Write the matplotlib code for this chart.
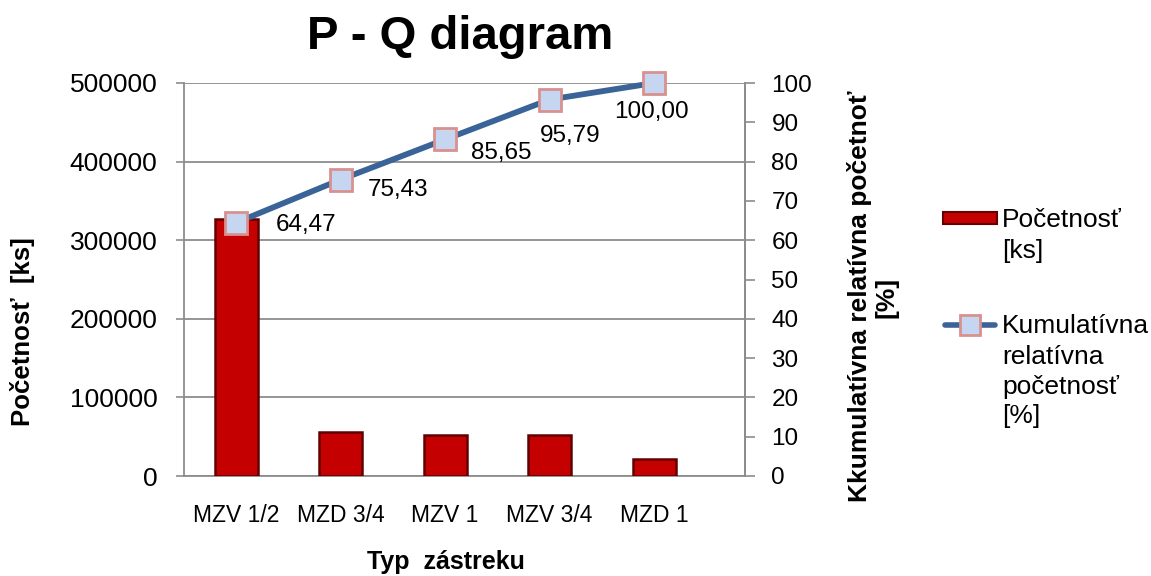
import matplotlib
matplotlib.use("Agg")
import matplotlib.pyplot as plt
from matplotlib.patches import Rectangle
from matplotlib.lines import Line2D

plt.rcParams['font.family'] = ['Liberation Sans', 'DejaVu Sans']

categories = ["MZV 1/2", "MZD 3/4", "MZV 1", "MZV 3/4", "MZD 1"]
counts = [327500, 55700, 52000, 51600, 21400]
cumulative = [64.47, 75.43, 85.65, 95.79, 100.00]
left_ticks = [0, 100000, 200000, 300000, 400000, 500000]
right_ticks = [0, 10, 20, 30, 40, 50, 60, 70, 80, 90, 100]

# label offsets in pixels (placement only)
label_offsets = [(40, -2, 'left'), (27, -10, 'left'), (26, -14, 'left'),
                 (-10, -36, 'left'), (-3, -29, 'center')]

W, H = 1151, 576
fig = plt.figure(figsize=(W / 100, H / 100), dpi=100)
ax = fig.add_axes([184 / W, 1 - 476 / H, (745 - 184) / W, (476 - 83) / H])
ax2 = ax.twinx()

grey = '#8c8c8c'
bar_red = '#C40000'
line_blue = '#3A6398'

x = list(range(len(categories)))
ax.bar(x, counts, width=0.41, color=bar_red, edgecolor='#620000',
       linewidth=1.8, zorder=3)
ax.set_xlim(-0.5, 4.87)
ax.set_ylim(0, 500000)
ax.set_yticks(left_ticks)
ax.set_yticklabels([str(t) for t in left_ticks], fontsize=19)
ax.set_xticks(x)
ax.set_xticklabels(categories, fontsize=16.5)
ax.tick_params(axis='x', length=0, pad=20)
ax.tick_params(axis='y', direction='out', length=6, width=1.2, color=grey, pad=13)
ax.yaxis.grid(True, color=grey, linewidth=1.3, zorder=0)
ax.set_axisbelow(True)
ax.spines['top'].set_visible(False)
for s in ['left', 'bottom', 'right']:
    ax.spines[s].set_color(grey)
    ax.spines[s].set_linewidth(1.3)

ax2.plot(x, cumulative, color=line_blue, linewidth=4.2, marker='s',
         markersize=15.5, markerfacecolor='#C6D6F0', markeredgecolor='#D8918F',
         markeredgewidth=2, zorder=5, clip_on=False)
ax2.set_ylim(0, 100)
ax2.set_yticks(right_ticks)
ax2.set_yticklabels([str(t) for t in right_ticks], fontsize=17.5)
ax2.tick_params(axis='y', direction='out', length=7, width=1.2, color=grey, pad=12)
for s in ['top', 'left', 'bottom']:
    ax2.spines[s].set_visible(False)
ax2.spines['right'].set_color(grey)
ax2.spines['right'].set_linewidth(1.3)

for xi, v, (dx, dy, ha) in zip(x, cumulative, label_offsets):
    ax2.annotate(f"{v:.2f}".replace('.', ','), (xi, v), xytext=(dx, dy),
                 textcoords='offset pixels', ha=ha, va='center', fontsize=17.5,
                 zorder=6)

# titles and axis labels
fig.text(460 / W, 1 - 37 / H, "P - Q diagram", fontsize=34, fontweight='bold',
         ha='center', va='center')
fig.text(23 / W, 1 - 332 / H, "Početnosť  [ks]", fontsize=18.5, fontweight='bold',
         rotation=90, ha='center', va='center')
fig.text(860 / W, 1 - 296 / H, "Kkumulatívna relatívna početnoť",
         fontsize=19, fontweight='bold', rotation=90, ha='center', va='center')
fig.text(887 / W, 1 - 297 / H, "[%]",
         fontsize=19, fontweight='bold', rotation=90, ha='center', va='center')
fig.text(446 / W, 1 - 562 / H, "Typ  zástreku", fontsize=18, fontweight='bold',
         ha='center', va='center')

# legend (drawn manually)
fig.patches.append(Rectangle((943 / W, 1 - 224 / H), 54 / W, 12 / H,
                             transform=fig.transFigure, facecolor=bar_red,
                             edgecolor='#620000', linewidth=1.5))
fig.lines.append(Line2D([945 / W, 995 / W], [1 - 325 / H, 1 - 325 / H],
                        transform=fig.transFigure, color=line_blue,
                        linewidth=4, solid_capstyle='round'))
fig.lines.append(Line2D([970 / W], [1 - 325 / H], transform=fig.transFigure,
                        marker='s', markersize=14, markerfacecolor='#C6D6F0',
                        markeredgecolor='#D8918F', markeredgewidth=2,
                        linestyle='none'))
for txt, yy in [("Početnosť", 227), ("[ks]", 258),
                ("Kumulatívna", 333), ("relatívna", 364),
                ("početnosť", 394), ("[%]", 423)]:
    fig.text(1002 / W, 1 - yy / H, txt, fontsize=19, ha='left', va='baseline')

fig.savefig("out.png", dpi=100)
